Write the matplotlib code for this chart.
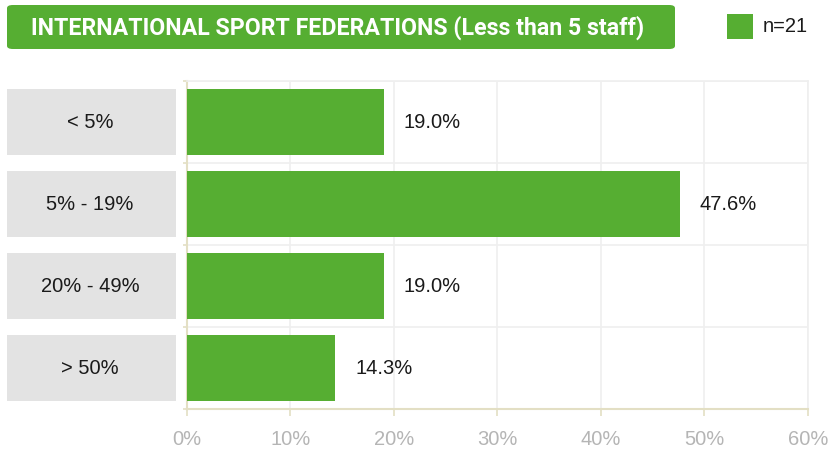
import matplotlib
matplotlib.use("Agg")
import matplotlib.pyplot as plt
from matplotlib.patches import FancyBboxPatch, Rectangle
from matplotlib.transforms import blended_transform_factory

categories = ["< 5%", "5% - 19%", "20% - 49%", "> 50%"]
values = [19.0, 47.6, 19.0, 14.3]
xticks = [0, 10, 20, 30, 40, 50, 60]
xtick_labels = ["0%", "10%", "20%", "30%", "40%", "50%", "60%"]
title = "INTERNATIONAL SPORT FEDERATIONS (Less than 5 staff)"
legend_label = "n=21"

GREEN = "#56ae32"
GREY_BOX = "#e3e3e3"
AXIS_COL = "#e3dfc4"
GRID_COL = "#efefef"
TEXT_COL = "#1a1a1a"

plt.rcParams["font.family"] = ["Liberation Sans", "DejaVu Sans"]

W, H = 837, 453
fig = plt.figure(figsize=(W / 100, H / 100), dpi=100)
ax = fig.add_axes([187 / W, 44 / H, 621 / W, 328 / H])

y = list(range(len(categories)))
ax.barh(y, values, height=0.8, color=GREEN, zorder=3)
ax.set_ylim(len(categories) - 0.5, -0.5)
ax.set_xlim(0, 60)

# grid: vertical at ticks, horizontal between categories
ax.set_xticks(xticks)
ax.set_xticklabels(xtick_labels, color="#b5b5b5", fontsize=14.5)
ax.set_yticks([i - 0.5 for i in range(len(categories) + 1)])
ax.set_yticklabels([])
ax.grid(True, color=GRID_COL, linewidth=1.2, zorder=0)
ax.tick_params(axis="x", length=5, color=AXIS_COL, width=1.2, pad=10)
ax.tick_params(axis="y", length=3, color=AXIS_COL, width=1.2)
for side in ["top", "right"]:
    ax.spines[side].set_color(GRID_COL)
    ax.spines[side].set_linewidth(1.2)
for side in ["left", "bottom"]:
    ax.spines[side].set_color(AXIS_COL)
    ax.spines[side].set_linewidth(1.5)

# value labels
for yi, v in zip(y, values):
    ax.text(v + 1.95, yi, f"{v:.1f}%", va="center", ha="left",
            fontsize=14.5, color=TEXT_COL, zorder=4)

# grey category boxes on the left
trans = blended_transform_factory(fig.transFigure, ax.transData)
for yi, cat in zip(y, categories):
    ax.add_patch(Rectangle((7 / W, yi - 0.4), 169 / W, 0.8, transform=trans,
                           facecolor=GREY_BOX, edgecolor="none", clip_on=False))
    ax.text(90 / W, yi, cat, transform=trans, ha="center", va="center",
            fontsize=14.5, color=TEXT_COL)

# title banner
fig.patches.append(FancyBboxPatch((7 / W, (H - 49) / H), 668 / W, 44 / H,
                                  boxstyle="round,pad=0,rounding_size=0.007",
                                  transform=fig.transFigure,
                                  facecolor=GREEN, edgecolor="none"))
title_txt = fig.text(338 / W, (H - 27.5) / H, title, ha="center", va="center",
                     fontsize=15, fontweight="bold", color="white",
                     family=["Roboto", "DejaVu Sans"])
# fit the banner text to its target width
renderer = fig.canvas.get_renderer()
target_w = 612
for _ in range(3):
    w = title_txt.get_window_extent(renderer).width
    title_txt.set_fontsize(title_txt.get_fontsize() * target_w / w)

# legend
fig.patches.append(Rectangle((727 / W, (H - 39) / H), 26 / W, 25 / H,
                             transform=fig.transFigure, facecolor=GREEN,
                             edgecolor="none"))
fig.text(763 / W, (H - 27) / H, legend_label, ha="left", va="center",
         fontsize=14.5, color=TEXT_COL)

fig.savefig("out.png", dpi=100)
